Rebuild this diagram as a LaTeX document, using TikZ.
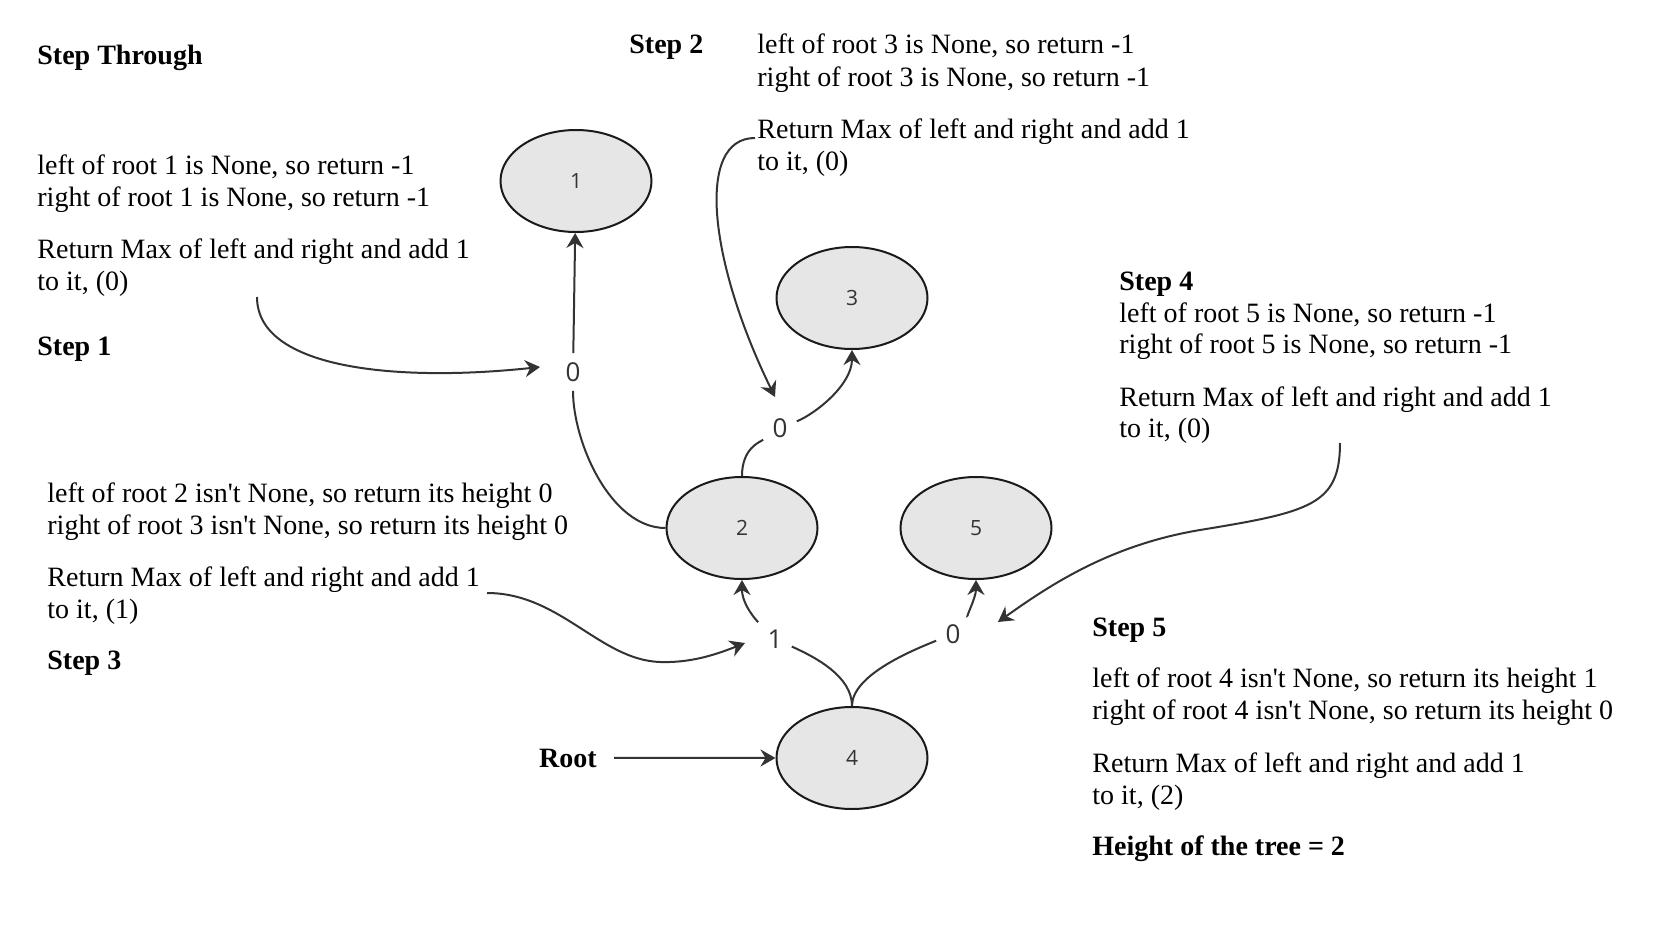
\documentclass[tikz,border=0pt]{standalone}
\usepackage{fontspec}
\setmainfont{Liberation Serif}[Ligatures=TeXOff]
\newfontfamily\labelfont{Open Sans}
\usetikzlibrary{arrows.meta,shapes.geometric}
\definecolor{edgec}{HTML}{333333}
\definecolor{nodefill}{HTML}{E6E6E6}
\definecolor{strokec}{HTML}{1A1A1A}
\begin{document}
\begin{tikzpicture}[x=0.5pt,y=-0.5pt,
  treenode/.style={ellipse, draw=strokec, line width=1pt, fill=nodefill,
    minimum width=75.5pt, minimum height=51pt, inner sep=0pt,
    font=\labelfont\fontsize{10.5}{12}\selectfont, text=edgec},
  elabel/.style={font=\labelfont\fontsize{13}{15}\selectfont, text=edgec, inner sep=4.5pt},
  conn/.style={draw=edgec, line width=1pt},
  arr/.style={conn, -{Stealth[length=7.5pt,width=8.5pt,inset=2.5pt]}},
  txt/.style={anchor=base west, inner sep=0pt, font=\fontsize{14}{16}\selectfont},
  btxt/.style={anchor=base west, inner sep=0pt, font=\bfseries\fontsize{14}{16}\selectfont}
]
\fill[white] (0,0) rectangle (1667,937);
\useasboundingbox (0,0) rectangle (1667,937);

% tree nodes
\node[treenode] (n1) at (576,181) {1};
\node[treenode] (n3) at (852,298) {3};
\node[treenode] (n2) at (742,528) {2};
\node[treenode] (n5) at (976,528) {5};
\node[treenode] (n4) at (852,758) {4};

% edge labels
\node[elabel] (l21) at (573,372) {0};
\node[elabel] (l23) at (780,428) {0};
\node[elabel] (l42) at (775,639) {1};
\node[elabel] (l45) at (953,634) {0};

% tree edges
\draw[conn] (n2.west) .. controls +(-55,0) and +(0,70) .. (l21);
\draw[arr] (l21) -- (n1);
\draw[conn] (n2.north) .. controls +(0,-28) and +(-20,14) .. (l23);
\draw[arr] (l23) .. controls +(35,-14) and +(0,35) .. (n3.south);
\draw[conn] (n4.north) .. controls +(0,-30) and +(40,18) .. (l42);
\draw[arr] (l42) .. controls +(-18,-18) and +(0,25) .. (n2.south);
\draw[conn] (n4.north) .. controls +(0,-30) and +(-45,18) .. (l45);
\draw[arr] (l45) .. controls +(12,-15) and +(0,18) .. (n5.south);

% texts
\node[btxt] (title) at (37,64) {Step Through};
\node[txt] (a1) at (37,174) {left of root 1 is None, so return -1};
\node[txt] (a2) at (37,206) {right of root 1 is None, so return -1};
\node[txt] (a3) at (37,258) {Return Max of left and right and add 1};
\node[txt] (a4) at (37,290) {to it, (0)};
\node[btxt] (a5) at (37,355) {Step 1};

\node[btxt] (b0) at (629,54) {Step 2};
\node[txt] (b1) at (757,54) {left of root 3 is None, so return -1};
\node[txt] (b2) at (757,86) {right of root 3 is None, so return -1};
\node[txt] (b3) at (757,138) {Return Max of left and right and add 1};
\node[txt] (b4) at (757,170) {to it, (0)};

\node[btxt] (c0) at (1119,290) {Step 4};
\node[txt] (c1) at (1119,322) {left of root 5 is None, so return -1};
\node[txt] (c2) at (1119,353) {right of root 5 is None, so return -1};
\node[txt] (c3) at (1119,406) {Return Max of left and right and add 1};
\node[txt] (c4) at (1119,437) {to it, (0)};

\node[txt] (d1) at (47,502) {left of root 2 isn't None, so return its height 0};
\node[txt] (d2) at (47,534) {right of root 3 isn't None, so return its height 0};
\node[txt] (d3) at (47,586) {Return Max of left and right and add 1};
\node[txt] (d4) at (47,618) {to it, (1)};
\node[btxt] (d5) at (47,669) {Step 3};

\node[btxt] (e0) at (1092,636) {Step 5};
\node[txt] (e1) at (1092,687) {left of root 4 isn't None, so return its height 1};
\node[txt] (e2) at (1092,719) {right of root 4 isn't None, so return its height 0};
\node[txt] (e3) at (1092,772) {Return Max of left and right and add 1};
\node[txt] (e4) at (1092,804) {to it, (2)};
\node[btxt] (e5) at (1092,855) {Height of the tree = 2};

\node[anchor=base, inner sep=0pt, inner xsep=8.5pt, font=\bfseries\fontsize{14}{16}\selectfont] (root) at (568,767) {Root};
\draw[arr] (root) -- (n4);

% annotation arrows
\coordinate (s1) at (257,297);
\coordinate (tip1) at (540,367);
\draw[arr] (s1) .. controls (257,370) and (400,382) .. (tip1);

\coordinate (s2) at (755,138);
\coordinate (tip2) at (775,397);
\draw[arr] (s2) .. controls (695,138) and (709,262) .. (tip2);

\coordinate (s3) at (487,593);
\coordinate (m3) at (660,662);
\coordinate (tip3) at (745,643);
\draw[arr] (s3) .. controls (560,593) and (600,660) .. (m3) .. controls (690,663) and (715,655) .. (tip3);

\coordinate (s4) at (1340,443);
\coordinate (m4) at (1200,530);
\coordinate (tip4) at (998,622);
\draw[arr] (s4) .. controls (1340,505) and (1310,512) .. (m4) .. controls (1110,545) and (1050,585) .. (tip4);
\end{tikzpicture}
\end{document}
